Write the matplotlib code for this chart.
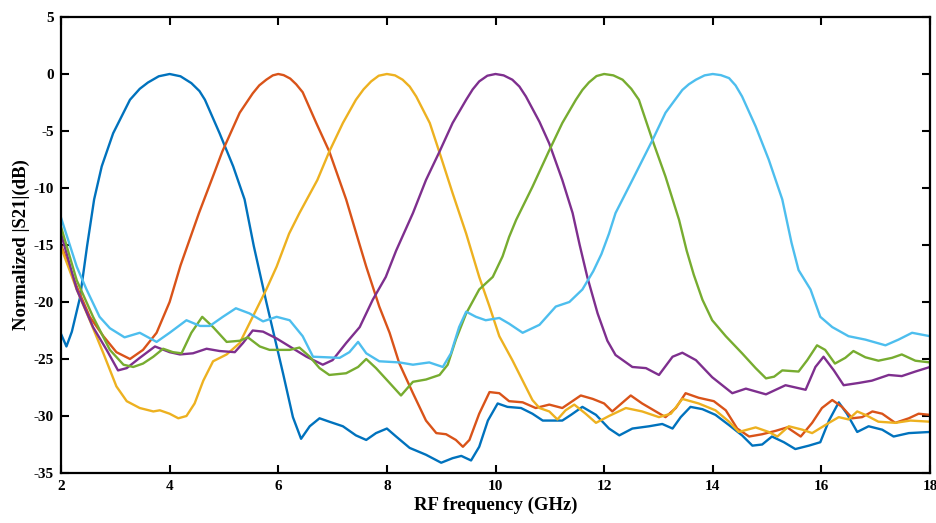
import matplotlib
matplotlib.use("Agg")
import matplotlib.pyplot as plt

plt.rcParams['font.family'] = ['Liberation Serif', 'DejaVu Serif']
plt.rcParams['font.weight'] = 'bold'
plt.rcParams['axes.unicode_minus'] = False

# MATLAB default line colours
COLORS = ["#0072BD", "#D95319", "#EDB120", "#7E2F8E", "#77AC30", "#4DBEEE"]

# filter centred at 4 GHz
f4 = [2.0, 2.1, 2.2, 2.35, 2.48, 2.61, 2.75, 2.96, 3.27, 3.45, 3.6, 3.8, 4.0, 4.2, 4.4,
      4.55, 4.65, 4.92, 5.17, 5.38, 5.55, 5.78, 6.09, 6.27, 6.42, 6.58, 6.76, 6.94,
      7.19, 7.43, 7.62, 7.80, 8.0, 8.17, 8.42, 8.72, 9.0, 9.21, 9.37, 9.55, 9.70, 9.86,
      10.04, 10.22, 10.47, 10.68, 10.87, 11.23, 11.39, 11.60, 11.85, 12.09, 12.28,
      12.52, 12.83, 13.07, 13.26, 13.41, 13.59, 13.81, 14.05, 14.30, 14.54, 14.73,
      14.91, 15.09, 15.31, 15.52, 15.77, 15.98, 16.14, 16.32, 16.47, 16.66, 16.87,
      17.12, 17.33, 17.61, 18.0]
s4 = [-22.8, -23.9, -22.6, -19.6, -15.1, -11.0, -8.1, -5.2, -2.26, -1.3, -0.75, -0.2,
      0, -0.2, -0.8, -1.5, -2.26, -5.2, -8.1, -11.0, -15.1, -20.0, -26.3, -30.1, -32.0,
      -30.9, -30.2, -30.5, -30.9, -31.7, -32.1, -31.5, -31.1, -31.8, -32.8, -33.4,
      -34.1, -33.7, -33.5, -33.9, -32.7, -30.4, -28.9, -29.2, -29.3, -29.8, -30.4,
      -30.4, -29.9, -29.2, -29.9, -31.1, -31.7, -31.1, -30.9, -30.7, -31.1, -30.1,
      -29.2, -29.4, -29.9, -30.8, -31.7, -32.6, -32.5, -31.8, -32.3, -32.9, -32.6,
      -32.3, -30.4, -28.8, -29.8, -31.4, -30.9, -31.2, -31.8, -31.5, -31.4]

# 6 GHz
f6 = [2.0, 2.29, 2.53, 2.78, 3.02, 3.27, 3.51, 3.76, 4.0, 4.20, 4.54, 4.82, 4.97, 5.29,
      5.53, 5.65, 5.78, 5.9, 6.0, 6.1, 6.22, 6.33, 6.45, 6.70, 6.94, 7.25, 7.50, 7.62,
      7.86, 8.05, 8.23, 8.48, 8.72, 8.91, 9.09, 9.27, 9.40, 9.52, 9.70, 9.89, 10.07,
      10.25, 10.50, 10.74, 10.99, 11.23, 11.57, 11.79, 12.0, 12.15, 12.49, 12.70,
      13.13, 13.32, 13.50, 13.74, 14.02, 14.24, 14.45, 14.67, 14.91, 15.16, 15.37,
      15.62, 15.83, 16.01, 16.20, 16.38, 16.57, 16.75, 16.94, 17.12, 17.36, 17.61,
      17.79, 18.0]
s6 = [-15.0, -18.65, -21.3, -23.0, -24.4, -25.0, -24.2, -22.7, -20.0, -16.8, -12.2,
      -8.7, -6.8, -3.4, -1.7, -1.0, -0.5, -0.12, 0, -0.1, -0.4, -0.9, -1.6, -4.3,
      -6.8, -11.0, -15.0, -16.9, -20.4, -22.7, -25.4, -28.0, -30.4, -31.5, -31.6,
      -32.1, -32.7, -32.1, -29.8, -27.9, -28.0, -28.7, -28.8, -29.3, -29.0, -29.3,
      -28.2, -28.5, -28.9, -29.6, -28.2, -28.9, -30.1, -29.3, -28.0, -28.4, -28.7,
      -29.5, -31.1, -31.8, -31.6, -31.3, -31.0, -31.8, -30.6, -29.3, -28.6, -29.2,
      -30.2, -30.1, -29.6, -29.8, -30.6, -30.2, -29.8, -29.9]

# 8 GHz
f8 = [2.0, 2.29, 2.53, 2.78, 3.02, 3.21, 3.45, 3.70, 3.82, 4.0, 4.16, 4.31, 4.46, 4.62,
      4.80, 5.05, 5.29, 5.53, 5.78, 5.97, 6.2, 6.39, 6.72, 6.94, 7.19, 7.43, 7.57,
      7.71, 7.85, 8.0, 8.15, 8.29, 8.42, 8.54, 8.79, 8.97, 9.21, 9.46, 9.70, 9.89,
      10.07, 10.31, 10.50, 10.68, 10.81, 10.99, 11.14, 11.29, 11.45, 11.66, 11.85,
      12.09, 12.40, 12.70, 13.01, 13.23, 13.44, 13.74, 14.05, 14.30, 14.48, 14.79,
      15.03, 15.19, 15.40, 15.65, 15.83, 16.14, 16.32, 16.50, 16.66, 16.81, 17.05,
      17.36, 17.64, 18.0]
s8 = [-15.2, -18.9, -21.6, -24.5, -27.4, -28.7, -29.3, -29.6, -29.5, -29.8, -30.2,
      -30.0, -28.9, -26.9, -25.2, -24.6, -23.6, -21.3, -18.9, -16.9, -14.0, -12.2,
      -9.3, -6.8, -4.3, -2.26, -1.35, -0.65, -0.15, 0, -0.12, -0.5, -1.1, -1.97, -4.3,
      -6.9, -10.45, -14.0, -17.8, -20.4, -23.0, -25.1, -26.9, -28.6, -29.3, -29.6,
      -30.3, -29.5, -29.0, -29.8, -30.6, -30.0, -29.3, -29.6, -30.1, -29.8, -28.5,
      -28.9, -29.5, -30.5, -31.4, -31.0, -31.4, -31.8, -30.9, -31.2, -31.5, -30.6,
      -30.1, -30.3, -29.6, -29.9, -30.5, -30.6, -30.4, -30.5]

# 10 GHz
f10 = [2.0, 2.29, 2.59, 2.84, 3.05, 3.21, 3.45, 3.73, 4.0, 4.19, 4.43, 4.68, 4.92, 5.20,
       5.35, 5.53, 5.72, 5.97, 6.21, 6.52, 6.82, 7.0, 7.25, 7.50, 7.74, 7.98, 8.17,
       8.48, 8.72, 8.97, 9.21, 9.46, 9.58, 9.70, 9.85, 10.0, 10.15, 10.31, 10.44,
       10.56, 10.81, 10.99, 11.23, 11.42, 11.55, 11.69, 11.88, 12.06, 12.21, 12.52,
       12.77, 13.01, 13.26, 13.44, 13.69, 13.99, 14.36, 14.61, 14.98, 15.34, 15.71,
       15.89, 16.04, 16.23, 16.41, 16.69, 16.93, 17.24, 17.48, 17.73, 18.0]
s10 = [-14.0, -18.9, -22.2, -24.2, -26.0, -25.8, -24.9, -23.9, -24.4, -24.6, -24.5,
       -24.1, -24.3, -24.4, -23.6, -22.5, -22.6, -23.2, -23.9, -24.8, -25.5, -25.1,
       -23.6, -22.2, -19.8, -17.8, -15.5, -12.2, -9.3, -6.8, -4.3, -2.26, -1.35, -0.65,
       -0.15, 0, -0.12, -0.5, -1.1, -1.97, -4.2, -6.1, -9.3, -12.2, -15.0, -17.8,
       -21.0, -23.4, -24.65, -25.7, -25.8, -26.4, -24.8, -24.45, -25.1, -26.6, -28.0,
       -27.6, -28.1, -27.3, -27.7, -25.7, -24.8, -26.0, -27.3, -27.1, -26.9, -26.4,
       -26.5, -26.1, -25.7]

# 12 GHz
f12 = [2.0, 2.29, 2.59, 2.90, 3.15, 3.33, 3.51, 3.70, 3.88, 4.06, 4.22, 4.40, 4.60,
       4.80, 5.05, 5.29, 5.44, 5.66, 5.84, 6.21, 6.39, 6.58, 6.76, 6.94, 7.25, 7.47,
       7.62, 7.80, 8.05, 8.26, 8.48, 8.72, 8.97, 9.12, 9.27, 9.46, 9.70, 9.95, 10.13,
       10.25, 10.38, 10.68, 10.98, 11.23, 11.48, 11.6, 11.72, 11.86, 12.0, 12.17,
       12.34, 12.5, 12.64, 12.89, 13.13, 13.38, 13.52, 13.65, 13.81, 13.99, 14.24,
       14.54, 14.79, 14.98, 15.13, 15.28, 15.58, 15.74, 15.92, 16.07, 16.25, 16.44,
       16.59, 16.81, 17.05, 17.30, 17.48, 17.73, 18.0]
s12 = [-13.4, -18.1, -21.3, -24.2, -25.5, -25.7, -25.4, -24.8, -24.1, -24.4, -24.5,
       -22.7, -21.3, -22.2, -23.5, -23.4, -23.1, -23.9, -24.2, -24.2, -24.0, -24.8,
       -25.8, -26.4, -26.25, -25.7, -25.0, -25.8, -27.1, -28.2, -27.0, -26.8, -26.4,
       -25.5, -23.3, -21.0, -18.9, -17.8, -16.0, -14.3, -12.8, -9.9, -6.8, -4.3, -2.26,
       -1.4, -0.74, -0.18, 0, -0.12, -0.5, -1.3, -2.26, -5.8, -9.0, -12.8, -15.5,
       -17.6, -19.8, -21.6, -23.0, -24.5, -25.8, -26.7, -26.55, -26.0, -26.1, -25.1,
       -23.8, -24.2, -25.4, -24.9, -24.3, -24.85, -25.15, -24.9, -24.6, -25.15, -25.3]

# 14 GHz
f14 = [2.0, 2.29, 2.47, 2.71, 2.90, 3.17, 3.45, 3.76, 4.0, 4.31, 4.56, 4.74, 4.98, 5.22,
       5.47, 5.72, 5.97, 6.21, 6.45, 6.64, 6.89, 7.13, 7.31, 7.47, 7.62, 7.86, 8.23,
       8.48, 8.78, 9.03, 9.18, 9.33, 9.46, 9.64, 9.82, 10.07, 10.25, 10.50, 10.81,
       11.11, 11.36, 11.60, 11.80, 11.95, 12.09, 12.21, 12.52, 12.89, 13.13, 13.3,
       13.44, 13.56, 13.69, 13.85, 14.0, 14.15, 14.30, 14.42, 14.54, 14.79, 15.03,
       15.28, 15.45, 15.58, 15.80, 15.98, 16.20, 16.50, 16.81, 17.18, 17.42, 17.67,
       18.0]
s14 = [-12.6, -16.9, -18.9, -21.3, -22.3, -23.1, -22.7, -23.5, -22.7, -21.6, -22.1,
       -22.1, -21.3, -20.55, -21.0, -21.7, -21.3, -21.6, -23.0, -24.8, -24.85, -24.9,
       -24.4, -23.5, -24.5, -25.2, -25.3, -25.5, -25.3, -25.7, -24.5, -22.2, -20.85,
       -21.3, -21.6, -21.4, -21.9, -22.7, -22.0, -20.4, -20.0, -18.9, -17.3, -15.8,
       -14.0, -12.2, -9.3, -5.8, -3.4, -2.3, -1.4, -0.9, -0.5, -0.12, 0, -0.1, -0.36,
       -1.0, -1.97, -4.6, -7.5, -11.0, -14.8, -17.2, -18.9, -21.3, -22.2, -23.0, -23.3,
       -23.8, -23.3, -22.7, -23.0]

series = [(f4, s4), (f6, s6), (f8, s8), (f10, s10), (f12, s12), (f14, s14)]

fig = plt.figure(figsize=(9.36, 5.23), dpi=100)
ax = fig.add_axes([61 / 936, 50 / 523, 869 / 936, 456 / 523])

for (f, s), c in zip(series, COLORS):
    ax.plot(f, s, color=c, lw=1.7, solid_joinstyle='round')

ax.set_xlim(2, 18)
ax.set_ylim(-35, 5)
ax.set_xticks(range(2, 19, 2))
ax.set_yticks(range(-35, 6, 5))
ax.tick_params(direction='in', top=True, right=True, length=6, width=1.5,
               labelsize=11, pad=5)
for lab in ax.get_xticklabels() + ax.get_yticklabels():
    lab.set_fontweight('bold')
for spine in ax.spines.values():
    spine.set_linewidth(1.6)

ax.set_xlabel('RF frequency (GHz)', fontsize=13.5, fontweight='bold', labelpad=3)
ax.set_ylabel('Normalized |S21|(dB)', fontsize=13.5, fontweight='bold', labelpad=3)

fig.savefig('out.png', dpi=100)
